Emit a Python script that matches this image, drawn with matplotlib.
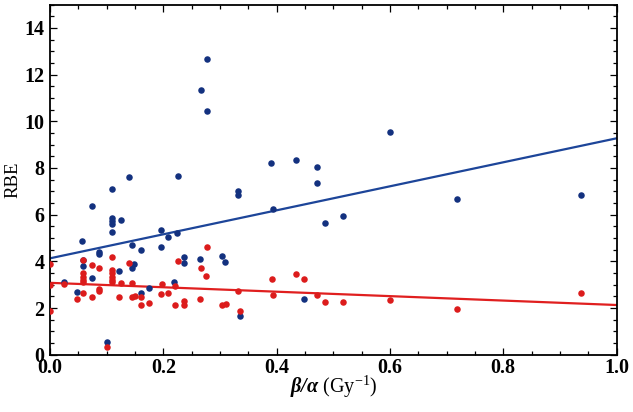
import numpy as np
import matplotlib
matplotlib.use("Agg")
import matplotlib.pyplot as plt
from matplotlib.ticker import MultipleLocator

plt.rcParams['font.family'] = ['Liberation Serif', 'DejaVu Serif']
plt.rcParams['mathtext.fontset'] = 'custom'
plt.rcParams['mathtext.rm'] = 'Liberation Serif'
plt.rcParams['mathtext.it'] = 'Liberation Serif:italic'
plt.rcParams['mathtext.bf'] = 'Liberation Serif:bold:italic'

# blue points (beta/alpha, RBE)
blue_x = [0.024, 0.048, 0.056, 0.058, 0.058, 0.075, 0.075, 0.086, 0.086,
          0.100, 0.109, 0.109, 0.109, 0.109, 0.109, 0.122, 0.126, 0.139,
          0.145, 0.145, 0.148, 0.161, 0.161, 0.175, 0.196, 0.196, 0.209,
          0.219, 0.224, 0.226, 0.237, 0.237, 0.265, 0.266, 0.277, 0.277,
          0.304, 0.309, 0.331, 0.331, 0.335, 0.390, 0.393, 0.434, 0.448,
          0.471, 0.472, 0.485, 0.518, 0.600, 0.719, 0.938]
blue_y = [3.13, 2.69, 4.86, 4.04, 3.82, 6.37, 3.30, 4.41, 4.30,
          0.53, 7.12, 5.85, 5.72, 5.58, 5.26, 3.60, 5.77, 7.60,
          4.72, 3.70, 3.88, 4.47, 2.64, 2.85, 5.35, 4.62, 5.03,
          3.13, 5.23, 7.67, 4.20, 3.92, 4.12, 11.32, 12.66, 10.43,
          4.22, 3.98, 7.01, 6.86, 1.67, 8.20, 6.24, 8.33, 2.39,
          7.35, 8.06, 5.63, 5.94, 9.52, 6.68, 6.85]

# red points (beta/alpha, RBE)
red_x = [0.000, 0.000, 0.000, 0.024, 0.048, 0.058, 0.058, 0.058, 0.058,
         0.058, 0.058, 0.075, 0.075, 0.086, 0.086, 0.086, 0.100, 0.109,
         0.109, 0.109, 0.109, 0.109, 0.109, 0.122, 0.125, 0.139, 0.145,
         0.145, 0.150, 0.161, 0.161, 0.175, 0.196, 0.197, 0.209, 0.221,
         0.221, 0.226, 0.237, 0.237, 0.265, 0.266, 0.275, 0.277, 0.304,
         0.310, 0.331, 0.335, 0.391, 0.393, 0.434, 0.449, 0.471, 0.485,
         0.518, 0.600, 0.719, 0.938]
red_y = [3.89, 2.97, 1.89, 3.03, 2.39, 4.04, 3.49, 3.35, 3.22, 3.13,
         2.63, 3.84, 2.49, 3.70, 2.80, 2.72, 0.32, 4.20, 3.63, 3.50,
         3.35, 3.20, 3.12, 2.49, 3.06, 3.94, 3.07, 2.46, 2.53, 2.49,
         2.14, 2.22, 2.60, 3.02, 2.63, 2.94, 2.13, 4.03, 2.32, 2.13,
         2.38, 3.70, 3.37, 4.63, 2.13, 2.16, 2.73, 1.89, 3.26, 2.54,
         3.46, 3.23, 2.55, 2.27, 2.27, 2.34, 1.97, 2.66]

# fitted lines: intercept, slope
blue_fit = [4.13, 5.14]
red_fit = [3.08, -0.95]

blue_c = '#13317f'
red_c = '#dc1c1c'

fig = plt.figure(figsize=(6.33, 4.12), dpi=100)
ax = fig.add_axes([0.079, 0.139, 0.895, 0.850])

xs = np.array([0.0, 1.0])
ax.plot(xs, blue_fit[0] + blue_fit[1] * xs, color='#1d4599', lw=1.6, zorder=2)
ax.plot(xs, red_fit[0] + red_fit[1] * xs, color='#e01f1f', lw=1.6, zorder=2)
ax.scatter(blue_x, blue_y, s=22, color=blue_c, zorder=3, linewidths=0)
ax.scatter(red_x, red_y, s=22, color=red_c, zorder=3, linewidths=0)

ax.set_xlim(0, 1.0)
ax.set_ylim(0, 15)
ax.xaxis.set_major_locator(MultipleLocator(0.2))
ax.xaxis.set_minor_locator(MultipleLocator(0.05))
ax.yaxis.set_major_locator(MultipleLocator(2))
ax.yaxis.set_minor_locator(MultipleLocator(0.5))
ax.tick_params(which='both', direction='in', top=True, right=True, width=0.9)
ax.tick_params(which='major', length=5, labelsize=14.5)
ax.tick_params(axis='x', which='major', pad=2)
ax.tick_params(axis='y', which='major', pad=4)
ax.tick_params(which='minor', length=3)
for lab in ax.get_xticklabels() + ax.get_yticklabels():
    lab.set_fontweight('bold')
for sp in ax.spines.values():
    sp.set_linewidth(1.3)

ax.set_ylabel('RBE', fontsize=13.5, labelpad=2)
ax.set_xlabel(r'$\mathbf{\beta/\alpha}$ (Gy$^{-1}$)', fontsize=14.5, labelpad=-3)

fig.savefig('out.png', dpi=100)
